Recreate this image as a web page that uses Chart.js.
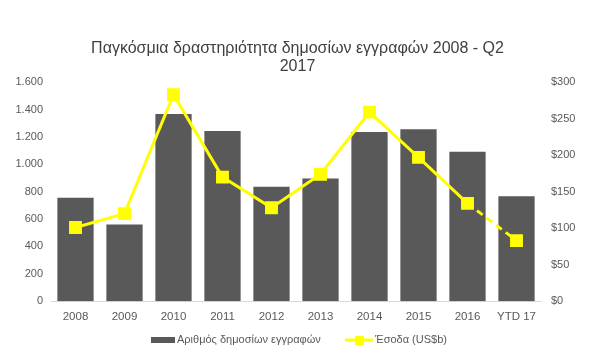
<!DOCTYPE html>
<html lang="el">
<head>
<meta charset="UTF-8">
<title>IPO chart</title>
<script src="https://cdn.jsdelivr.net/npm/chart.js@4/dist/chart.umd.min.js"></script>
<style>
  html, body { margin: 0; padding: 0; background: #fff; }
</style>
</head>
<body>
<canvas id="mychart" width="595" height="359"></canvas>
<script>
    // δεδομένα
    const years = ['2008', '2009', '2010', '2011', '2012', '2013', '2014', '2015', '2016', 'YTD 17'];
    const deals = [756, 560, 1367, 1244, 836, 897, 1236, 1256, 1091, 766];
    const proceeds = [101, 120, 283, 170, 128, 174, 259, 197, 134, 83];
    const leftTicks = [0, 200, 400, 600, 800, 1000, 1200, 1400, 1600];
    const rightTicks = [0, 50, 100, 150, 200, 250, 300];

    const grey = '#595959';
    const yellow = '#FFFF00';
    const font = 'Liberation Sans, Arial, sans-serif';

    // legend στο κάτω μέρος
    const legendPlugin = {
        id: 'customLegend',
        afterDraw(chart) {
            const c = chart.ctx;
            const ds = chart.data.datasets;
            c.save();
            c.font = '11px ' + font;
            c.textBaseline = 'middle';
            c.fillStyle = grey;
            const y = 340;
            c.fillRect(151, y - 3, 24, 6);
            c.fillText(ds[1].label, 177, y);
            c.strokeStyle = yellow;
            c.lineWidth = 3;
            c.beginPath();
            c.moveTo(345, y);
            c.lineTo(373, y);
            c.stroke();
            c.fillStyle = yellow;
            c.fillRect(355, y - 4, 9, 9);
            c.fillStyle = grey;
            c.fillText(ds[0].label, 375, y);
            c.restore();
        }
    };

    const ctx = document.getElementById('mychart');
    const mychart = new Chart(ctx, {
        data: {
            labels: years,
            datasets: [{
                type: 'line',
                label: 'Έσοδα (US$b)',
                data: proceeds,
                yAxisID: 'y2',
                borderColor: yellow,
                backgroundColor: yellow,
                borderWidth: 3,
                pointStyle: 'rect',
                pointRadius: 7,
                pointHoverRadius: 7,
                tension: 0,
                order: 0,
                segment: {
                    borderDash: c => c.p1DataIndex === years.length - 1 ? [7, 5] : undefined
                }
            }, {
                type: 'bar',
                label: 'Αριθμός δημοσίων εγγραφών',
                data: deals,
                yAxisID: 'y',
                backgroundColor: grey,
                categoryPercentage: 0.74,
                barPercentage: 1,
                order: 1
            }]
        },
        options: {
            responsive: false,
            animation: false,
            layout: { padding: { top: 0, bottom: 26, left: 0, right: 0 } },
            plugins: {
                legend: { display: false },
                tooltip: { enabled: false },
                title: {
                    display: true,
                    text: ['Παγκόσμια δραστηριότητα δημοσίων εγγραφών 2008 - Q2', '2017'],
                    color: '#404040',
                    font: { family: font, size: 16, weight: 'normal', lineHeight: 1.1 },
                    padding: { top: 40, bottom: 7 }
                }
            },
            scales: {
                x: {
                    grid: { display: false, drawTicks: false },
                    border: { color: '#d9d9d9' },
                    ticks: { color: grey, font: { family: font, size: 11.5 }, padding: 9 }
                },
                y: {
                    position: 'left',
                    min: 0,
                    max: 1600,
                    afterBuildTicks: a => { a.ticks = leftTicks.map(v => ({ value: v })); },
                    afterFit: a => { a.width = 51; },
                    grid: { display: false, drawTicks: false },
                    border: { display: false },
                    ticks: {
                        color: grey,
                        font: { family: font, size: 11 },
                        padding: 8,
                        callback: v => v.toString().replace(/\B(?=(\d{3})+(?!\d))/g, '.')
                    }
                },
                y2: {
                    position: 'right',
                    min: 0,
                    max: 300,
                    afterBuildTicks: a => { a.ticks = rightTicks.map(v => ({ value: v })); },
                    afterFit: a => { a.width = 54; },
                    grid: { display: false, drawTicks: false },
                    border: { display: false },
                    ticks: {
                        color: grey,
                        font: { family: font, size: 11 },
                        padding: 10,
                        callback: v => '$' + v
                    }
                }
            }
        },
        plugins: [legendPlugin]
    });
</script>
</body>
</html>
